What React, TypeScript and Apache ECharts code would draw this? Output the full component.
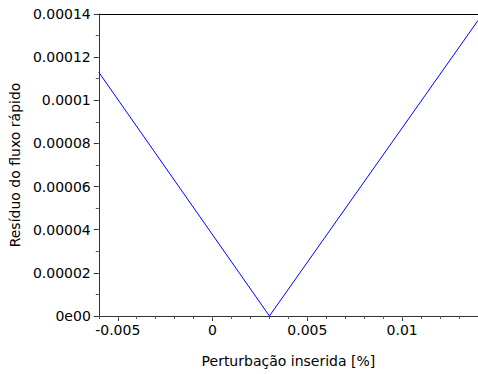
import React, { useEffect, useRef } from "react";
import * as echarts from "echarts";

const xValues = [-0.006, 0.003, 0.014];
const yValues = [0.000113, 0, 0.000137];
const xTickValues = [-0.005, 0, 0.005, 0.01];
const xTickLabels = ["-0.005", "0", "0.005", "0.01"];
const yTickLabels = ["0e00", "0.00002", "0.00004", "0.00006", "0.00008", "0.0001", "0.00012", "0.00014"];

const FONT = "DejaVu Sans";

export default function App() {
  const ref = useRef<HTMLDivElement>(null);
  useEffect(() => {
    document.body.style.margin = "0";
    if (!ref.current) return;
    const chart = echarts.init(ref.current, null, { renderer: "svg" });
    const data = xValues.map((x, i) => [x, yValues[i]]);
    chart.setOption({
      animation: false,
      backgroundColor: "#ffffff",
      grid: { left: 98, top: 14, right: 0, bottom: 58, containLabel: false },
      xAxis: [
        {
          type: "value",
          min: -0.006,
          max: 0.014,
          position: "bottom",
          name: "Perturbação inserida [%]",
          nameLocation: "middle",
          nameGap: 38,
          nameTextStyle: { color: "#000", fontSize: 14, fontFamily: FONT },
          axisLine: { show: true, onZero: false, lineStyle: { color: "#333", width: 1 } },
          axisTick: { show: true, length: 5, customValues: xTickValues, lineStyle: { color: "#333" } },
          axisLabel: {
            customValues: xTickValues,
            margin: 7,
            color: "#000",
            fontSize: 14,
            fontFamily: FONT,
            formatter: (v: number) => {
              const i = xTickValues.findIndex((t) => Math.abs(t - v) < 1e-9);
              return i >= 0 ? xTickLabels[i] : "";
            },
          },
          splitLine: { show: false },
        },
        {
          type: "value",
          min: -0.006,
          max: 0.014,
          interval: 0.001,
          position: "bottom",
          axisLine: { show: false, onZero: false },
          axisTick: { show: true, length: 3, lineStyle: { color: "#555" } },
          axisLabel: { show: false },
          splitLine: { show: false },
        },
        {
          type: "value",
          min: -0.006,
          max: 0.014,
          position: "top",
          axisLine: { show: true, onZero: false, lineStyle: { color: "#000", width: 1 } },
          axisTick: { show: false },
          axisLabel: { show: false },
          splitLine: { show: false },
        },
      ],
      yAxis: {
        type: "value",
        min: 0,
        max: 0.00014,
        interval: 0.00002,
        name: "Resíduo do fluxo rápido",
        nameLocation: "middle",
        nameGap: 68,
        nameTextStyle: { color: "#000", fontSize: 14, fontFamily: FONT },
        axisLine: { show: true, onZero: false, lineStyle: { color: "#333", width: 1 } },
        axisTick: { show: true, length: 5, lineStyle: { color: "#333" } },
        minorTick: { show: true, splitNumber: 2, length: 3, lineStyle: { color: "#555" } },
        axisLabel: {
          margin: 8,
          color: "#000",
          fontSize: 14,
          fontFamily: FONT,
          formatter: (v: number) => {
            const i = Math.round(v / 0.00002);
            return yTickLabels[i] ?? "";
          },
        },
        splitLine: { show: false },
      },
      series: [
        {
          type: "line",
          xAxisIndex: 0,
          yAxisIndex: 0,
          data,
          showSymbol: false,
          symbol: "none",
          lineStyle: { color: "#0000ff", width: 1 },
          clip: true,
        },
      ],
    });
    return () => chart.dispose();
  }, []);
  return <div ref={ref} style={{ width: 478, height: 374 }} />;
}
